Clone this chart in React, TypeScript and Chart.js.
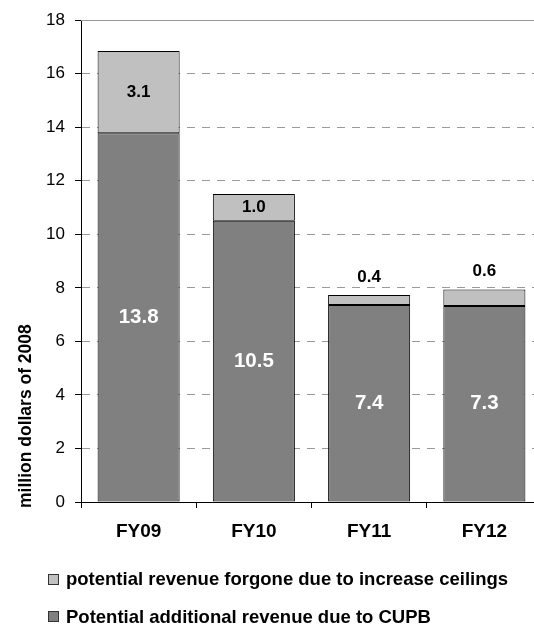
import React, { useEffect, useRef } from "react";
import { Chart, registerables } from "chart.js";

Chart.register(...registerables);

const categories = ["FY09", "FY10", "FY11", "FY12"];
const additionalRevenue = [13.78, 10.51, 7.36, 7.32];
const forgoneRevenue = [3.07, 1.0, 0.37, 0.62];
const seriesNames = [
  "Potential additional revenue due to CUPB",
  "potential revenue forgone due to increase ceilings",
];
const seriesColors = ["#808080", "#c0c0c0"];
const yMin = 0;
const yMax = 18;
const yStep = 2;
const yTitle = "million dollars of 2008";

const FONT = "'Liberation Sans', Arial, Helvetica, sans-serif";

const topBorderPlugin = {
  id: "topBorder",
  beforeDatasetsDraw(chart: any) {
    const { ctx, chartArea } = chart;
    ctx.save();
    ctx.strokeStyle = "#999999";
    ctx.lineWidth = 1;
    ctx.beginPath();
    const y = Math.round(chartArea.top) + 0.5;
    ctx.moveTo(chartArea.left, y);
    ctx.lineTo(chartArea.right + 2, y);
    ctx.stroke();
    ctx.restore();
  },
};

const yTitlePlugin = {
  id: "yTitleStart",
  afterDraw(chart: any) {
    const { ctx } = chart;
    ctx.save();
    ctx.translate(26, 508);
    ctx.rotate(-Math.PI / 2);
    ctx.font = `bold 17.5px ${FONT}`;
    ctx.fillStyle = "#000000";
    ctx.textAlign = "left";
    ctx.textBaseline = "middle";
    ctx.fillText(yTitle, 0, 0);
    ctx.restore();
  },
};

const dataLabelPlugin = {
  id: "dataLabels",
  afterDatasetsDraw(chart: any) {
    const { ctx } = chart;
    ctx.save();
    ctx.textAlign = "center";
    ctx.textBaseline = "middle";
    chart.data.datasets.forEach((ds: any, di: number) => {
      const meta = chart.getDatasetMeta(di);
      meta.data.forEach((bar: any, i: number) => {
        const v = ds.data[i] as number;
        const txt = v.toFixed(1);
        const top = Math.min(bar.y, bar.base);
        const bottom = Math.max(bar.y, bar.base);
        if (di === 0) {
          ctx.fillStyle = "#ffffff";
          ctx.font = `bold 20.5px ${FONT}`;
          ctx.fillText(txt, bar.x, (top + bottom) / 2);
        } else {
          ctx.fillStyle = "#000000";
          ctx.font = `bold 17px ${FONT}`;
          if (bottom - top >= 22) {
            ctx.fillText(txt, bar.x, (top + bottom) / 2);
          } else {
            ctx.fillText(txt, bar.x, top - 18);
          }
        }
      });
    });
    ctx.restore();
  },
};

const customLegendPlugin = {
  id: "customLegend",
  afterDraw(chart: any) {
    const { ctx } = chart;
    const rows = [1, 0];
    const rowY = [579, 616.5];
    ctx.save();
    ctx.font = `bold 18.5px ${FONT}`;
    ctx.textAlign = "left";
    ctx.textBaseline = "middle";
    rows.forEach((di, r) => {
      const ds = chart.data.datasets[di];
      const y = rowY[r];
      const bx = 48.5;
      const by = Math.round(y - 5.5) + 0.5;
      ctx.fillStyle = ds.backgroundColor;
      ctx.fillRect(bx, by, 10, 10);
      ctx.strokeStyle = "#333333";
      ctx.lineWidth = 1;
      ctx.strokeRect(bx, by, 10, 10);
      ctx.fillStyle = "#000000";
      ctx.fillText(ds.label, 66, y + 1);
    });
    ctx.restore();
  },
};

export default function App() {
  const canvasRef = useRef<HTMLCanvasElement | null>(null);

  useEffect(() => {
    if (!canvasRef.current) return;
    const chart = new Chart(canvasRef.current, {
      type: "bar",
      data: {
        labels: categories,
        datasets: [
          {
            label: seriesNames[0],
            data: additionalRevenue,
            backgroundColor: seriesColors[0],
            borderColor: "#000000",
            borderWidth: 1,
            borderSkipped: false,
            barPercentage: 0.712,
            categoryPercentage: 1,
          },
          {
            label: seriesNames[1],
            data: forgoneRevenue,
            backgroundColor: seriesColors[1],
            borderColor: "#000000",
            borderWidth: 1,
            borderSkipped: false,
            barPercentage: 0.712,
            categoryPercentage: 1,
          },
        ],
      },
      options: {
        responsive: false,
        animation: false,
        devicePixelRatio: 1,
        layout: { padding: { top: 15, bottom: 76, left: 0, right: 0 } },
        plugins: {
          legend: { display: false },
          tooltip: { enabled: false },
          title: { display: false },
        },
        scales: {
          x: {
            stacked: true,
            offset: true,
            afterFit: (scale: any) => {
              scale.height = 50;
            },
            grid: {
              display: true,
              drawOnChartArea: false,
              drawTicks: true,
              tickLength: 6,
              color: "#000000",
              tickColor: "#000000",
              offset: true,
            },
            border: { display: true, color: "#000000", width: 1 },
            ticks: {
              color: "#000000",
              padding: 12,
              font: { family: FONT, size: 19, weight: "bold" },
              maxRotation: 0,
            },
          },
          y: {
            stacked: true,
            min: yMin,
            max: yMax,
            afterFit: (scale: any) => {
              scale.width = 81;
            },
            grid: {
              color: (c: any) =>
                c.tick && (c.tick.value === yMin || c.tick.value === yMax)
                  ? "rgba(0,0,0,0)"
                  : "#9a9a9a",
              tickColor: "#000000",
              tickLength: 6,
              lineWidth: 1,
            },
            border: { display: true, color: "#000000", width: 1, dash: [8, 7] },
            ticks: {
              stepSize: yStep,
              color: "#000000",
              padding: 10,
              font: { family: FONT, size: 17 },
            },
            title: { display: false },
          },
        },
      },
      plugins: [topBorderPlugin, dataLabelPlugin, customLegendPlugin, yTitlePlugin],
    });
    return () => chart.destroy();
  }, []);

  return (
    <div
      style={{
        position: "fixed",
        left: 0,
        top: 0,
        width: 534,
        height: 628,
        overflow: "hidden",
        background: "#ffffff",
      }}
    >
      <canvas
        ref={canvasRef}
        width={542}
        height={628}
        style={{ display: "block", width: 542, height: 628 }}
      />
    </div>
  );
}
